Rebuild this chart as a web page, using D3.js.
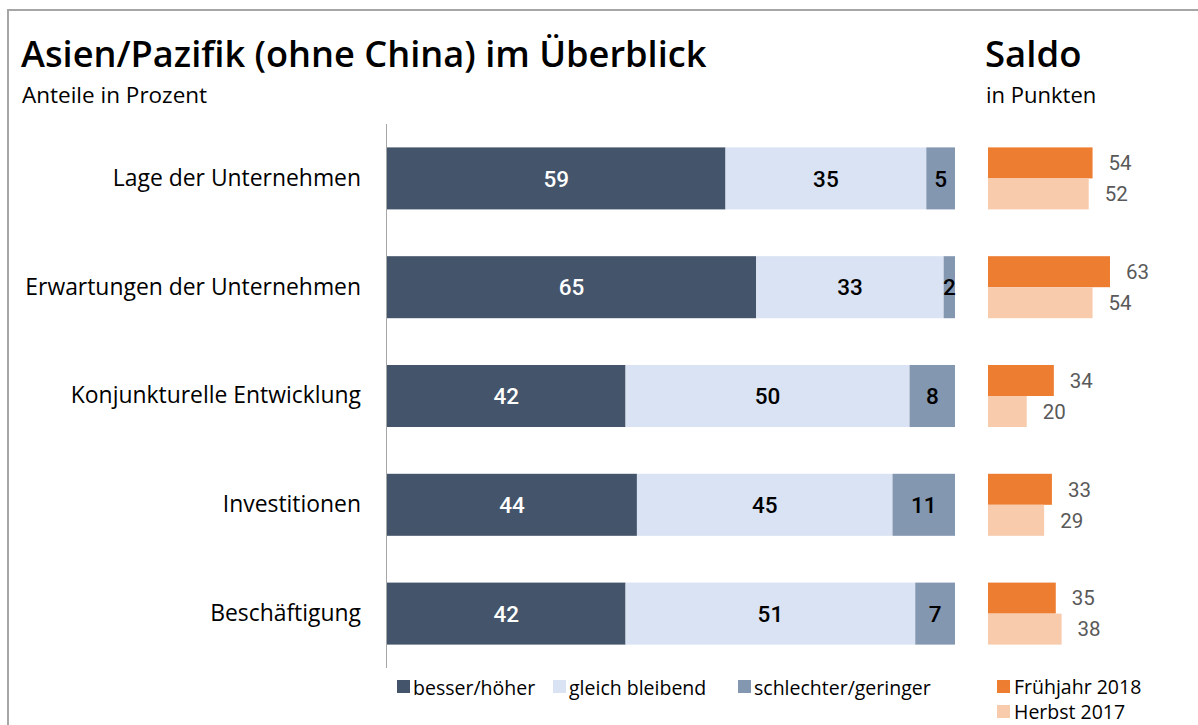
<!DOCTYPE html>
<html>
<head>
<meta charset="utf-8">
<script src="https://cdn.jsdelivr.net/npm/d3@7"></script>
<style>
  html, body { margin: 0; padding: 0; background: #fff; }
  svg { display: block; }
</style>
</head>
<body>
<svg id="chart" width="1198" height="725"></svg>
<script>
const categories = ["Lage der Unternehmen", "Erwartungen der Unternehmen", "Konjunkturelle Entwicklung", "Investitionen", "Beschäftigung"];
const seriesNames = ["besser/höher", "gleich bleibend", "schlechter/geringer"];
const besser = [59, 65, 42, 44, 42];
const gleich = [35, 33, 50, 45, 51];
const schlechter = [5, 2, 8, 11, 7];
const saldoNames = ["Frühjahr 2018", "Herbst 2017"];
const saldo2018 = [54, 63, 34, 33, 35];
const saldo2017 = [52, 54, 20, 29, 38];

const colors = ["#44546a", "#dae3f3", "#8497b0"];
const textColors = ["#ffffff", "#000000", "#000000"];
const saldoColors = ["#ed7d31", "#f8cbad"];

const svg = d3.select("#chart");
const labelFont = "'Open Sans', sans-serif";
const numFont = "Roboto, sans-serif";

// frame
svg.append("line").attr("x1", 8).attr("x2", 8).attr("y1", 9).attr("y2", 725)
  .attr("stroke", "#a6a6a6").attr("stroke-width", 2);
svg.append("line").attr("x1", 7).attr("x2", 1198).attr("y1", 10).attr("y2", 10)
  .attr("stroke", "#a6a6a6").attr("stroke-width", 2);

// titles
svg.append("text").attr("x", 21).attr("y", 67).text("Asien/Pazifik (ohne China) im Überblick")
  .attr("font-family", labelFont).attr("font-weight", 600).attr("font-size", 36.2).attr("fill", "#000");
svg.append("text").attr("x", 22).attr("y", 103).text("Anteile in Prozent")
  .attr("font-family", labelFont).attr("font-size", 22.5).attr("fill", "#000");
svg.append("text").attr("x", 985).attr("y", 67).text("Saldo")
  .attr("font-family", labelFont).attr("font-weight", 600).attr("font-size", 36.5).attr("fill", "#000");
svg.append("text").attr("x", 986).attr("y", 103).text("in Punkten")
  .attr("font-family", labelFont).attr("font-size", 22).attr("fill", "#000");

const data = categories.map((c, i) => ({cat: c, [seriesNames[0]]: besser[i], [seriesNames[1]]: gleich[i], [seriesNames[2]]: schlechter[i]}));
const stacked = d3.stack().keys(seriesNames).offset(d3.stackOffsetExpand)(data);

const y = d3.scaleBand().domain(categories).range([124, 668]).paddingInner(0.43).paddingOuter(0.215);
const x = d3.scaleLinear().domain([0, 1]).range([387, 955]);

// category labels
const yAxis = d3.axisLeft(y).tickSize(0).tickPadding(0);
const gy = svg.append("g").attr("transform", "translate(361,0)").call(yAxis);
gy.select(".domain").remove();
gy.selectAll("text").attr("font-family", labelFont).attr("font-size", 22.9).attr("fill", "#000")
  .attr("dy", "0.32em");

// axis line
svg.append("line").attr("x1", 386.5).attr("x2", 386.5).attr("y1", 124).attr("y2", 668)
  .attr("stroke", "#a6a6a6").attr("stroke-width", 1);

// bars
stacked.forEach((layer, k) => {
  const g = svg.append("g");
  g.selectAll("rect").data(layer).join("rect")
    .attr("x", d => x(d[0])).attr("width", d => x(d[1]) - x(d[0]))
    .attr("y", d => y(d.data.cat)).attr("height", y.bandwidth())
    .attr("fill", colors[k]);
  g.selectAll("text").data(layer).join("text")
    .attr("x", d => (x(d[0]) + x(d[1])) / 2)
    .attr("y", d => y(d.data.cat) + y.bandwidth() / 2)
    .attr("dy", "0.36em").attr("text-anchor", "middle")
    .attr("font-family", numFont).attr("font-weight", 500).attr("font-size", 22.5)
    .attr("fill", textColors[k])
    .text(d => d.data[seriesNames[k]]);
});

// saldo bars
const xs = d3.scaleLinear().domain([0, 63]).range([988, 1110]);
const saldoSeries = [saldo2018, saldo2017];
saldoSeries.forEach((vals, k) => {
  const g = svg.append("g");
  const h = y.bandwidth() / 2;
  g.selectAll("rect").data(vals).join("rect")
    .attr("x", xs(0)).attr("width", d => xs(d) - xs(0))
    .attr("y", (d, i) => y(categories[i]) + k * h).attr("height", h)
    .attr("fill", saldoColors[k]);
  g.selectAll("text").data(vals).join("text")
    .attr("x", d => xs(d) + 16)
    .attr("y", (d, i) => y(categories[i]) + k * h + h / 2)
    .attr("dy", "0.36em")
    .attr("font-family", numFont).attr("font-size", 20.5).attr("fill", "#595959")
    .text(d => d);
});

// legend (left)
const legX = [397, 553, 738];
seriesNames.forEach((n, k) => {
  svg.append("rect").attr("x", legX[k]).attr("y", 680).attr("width", 13).attr("height", 13).attr("fill", colors[k]);
  svg.append("text").attr("x", legX[k] + 16).attr("y", 695).text(n)
    .attr("font-family", labelFont).attr("font-size", 19.5).attr("fill", "#000");
});
// legend (saldo)
saldoNames.forEach((n, k) => {
  svg.append("rect").attr("x", 997).attr("y", 680 + k * 25).attr("width", 13).attr("height", 13).attr("fill", saldoColors[k]);
  svg.append("text").attr("x", 1014).attr("y", 694 + k * 25).text(n)
    .attr("font-family", labelFont).attr("font-size", 19.5).attr("fill", "#000");
});
</script>
</body>
</html>
